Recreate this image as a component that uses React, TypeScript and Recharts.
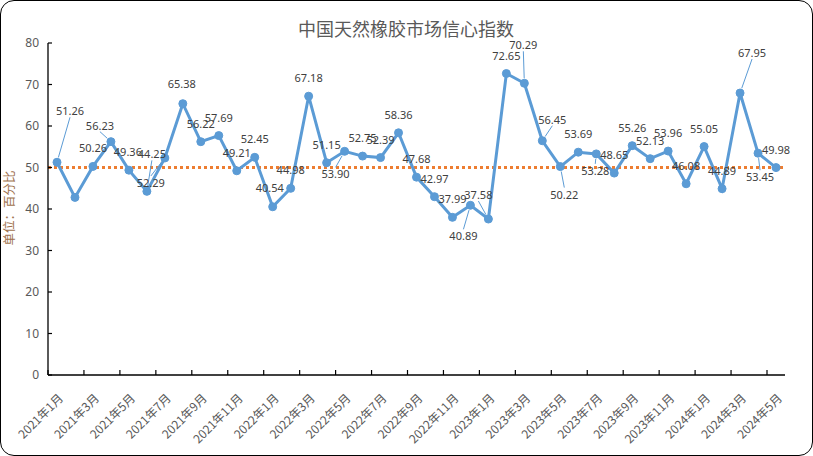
import { LabelList, Line, LineChart, ReferenceLine, XAxis, YAxis } from "recharts";

const MONTHS = [
  "2021年1月", "2021年2月", "2021年3月", "2021年4月", "2021年5月", "2021年6月",
  "2021年7月", "2021年8月", "2021年9月", "2021年10月", "2021年11月", "2021年12月",
  "2022年1月", "2022年2月", "2022年3月", "2022年4月", "2022年5月", "2022年6月",
  "2022年7月", "2022年8月", "2022年9月", "2022年10月", "2022年11月", "2022年12月",
  "2023年1月", "2023年2月", "2023年3月", "2023年4月", "2023年5月", "2023年6月",
  "2023年7月", "2023年8月", "2023年9月", "2023年10月", "2023年11月", "2023年12月",
  "2024年1月", "2024年2月", "2024年3月", "2024年4月", "2024年5月",
];

const CONFIDENCE = [
  51.26, 42.8, 50.26, 56.23, 49.36, 44.25, 52.29, 65.38, 56.22, 57.69, 49.21, 52.45,
  40.54, 44.98, 67.18, 51.15, 53.9, 52.75, 52.39, 58.36, 47.68, 42.97, 37.99, 40.89,
  37.58, 72.65, 70.29, 56.45, 50.22, 53.69, 53.28, 48.65, 55.26, 52.13, 53.96, 46.08,
  55.05, 44.89, 67.95, 53.45, 49.98,
];

const BASELINE = 50;
const Y_TICKS = [0, 10, 20, 30, 40, 50, 60, 70, 80];

const BLUE = "#5B9BD5";
const ORANGE = "#ED7D31";
const TEXT = "#595959";
const CJK = '"Noto Sans CJK SC", "Noto Sans", sans-serif';
const HALF_BAND = 9; // half a month's slot on the x axis

// where each value label sits relative to its point: [dx, dy, leader line]
const D: [number, number, boolean] = [0, -18, false];
const LABEL_POS: ([number, number, boolean] | null)[] = [
  [13, -51, true], null, D, [-11, -16, true], [-1, -18, false], [5, -37, true],
  [-14, 25, true], [-1, -20, false], D, D, D, D,
  [-3, -19, false], D, D, D, [-9, 23, true], D,
  D, D, D, D, D, [-7, 31, true],
  [-10, -24, true], D, [-1, -38, true], [10, -21, true], [4, 28, true], D,
  [-1, 17, true], D, D, D, D, D,
  D, D, [12, -40, true], [2, 24, true], D,
];

const data = MONTHS.map((month, i) => ({ month, value: CONFIDENCE[i] }));

function PointLabel(props: any) {
  const { x, y, value, index } = props;
  const pos = LABEL_POS[index];
  if (!pos || value == null) return null;
  const [dx, dy, leader] = pos;
  const lx = x + dx;
  const ly = y + dy;
  let line = null;
  if (leader) {
    const sx = lx;
    const sy = ly + (dy > 0 ? -7 : 6);
    const vx = sx - x;
    const vy = sy - y;
    const len = Math.hypot(vx, vy) || 1;
    line = (
      <line
        x1={sx}
        y1={sy}
        x2={x + (vx / len) * 5}
        y2={y + (vy / len) * 5}
        stroke={BLUE}
        strokeWidth={1}
      />
    );
  }
  return (
    <g>
      {line}
      <text
        x={lx}
        y={ly}
        dy={4}
        textAnchor="middle"
        fontSize={11}
        fontFamily='"Noto Sans", sans-serif'
        fill="#404040"
      >
        {Number(value).toFixed(2)}
      </text>
    </g>
  );
}

function MonthTick({ x, y, payload }: any) {
  const ax = x + 7;
  const ay = y + 24;
  return (
    <g>
      <line
        x1={x - HALF_BAND}
        y1={y}
        x2={x - HALF_BAND}
        y2={y - 5}
        stroke="#000"
        strokeWidth={1.2}
      />
      <text
        x={ax}
        y={ay}
        textAnchor="end"
        transform={`rotate(-45, ${ax}, ${ay})`}
        fontSize={12}
        fontFamily={CJK}
        fill={TEXT}
      >
        {payload.value}
      </text>
    </g>
  );
}

function ValueTick({ x, y, payload }: any) {
  return (
    <g>
      <line x1={x} y1={y} x2={x + 4} y2={y} stroke="#000" strokeWidth={1.2} />
      <text
        x={x - 9}
        y={y}
        dy={4}
        textAnchor="end"
        fontSize={12}
        fontFamily='"Noto Sans", sans-serif'
        fill={TEXT}
      >
        {payload.value}
      </text>
    </g>
  );
}

export default function App() {
  return (
    <div
      style={{
        position: "absolute",
        left: 0,
        top: 0,
        width: 813,
        height: 456,
        background: "#fff",
      }}
    >
      <LineChart
        width={813}
        height={456}
        data={data}
        margin={{ top: 43, right: 28, bottom: 0, left: 0 }}
      >
        <XAxis
          dataKey="month"
          interval={1}
          height={81}
          padding={{ left: HALF_BAND, right: HALF_BAND }}
          tickSize={0}
          tickMargin={0}
          tickLine={false}
          axisLine={{ stroke: "#000", strokeWidth: 1.3 }}
          tick={<MonthTick />}
        />
        <YAxis
          domain={[0, 80]}
          ticks={Y_TICKS}
          width={48}
          tickSize={0}
          tickMargin={0}
          tickLine={false}
          axisLine={{ stroke: "#000", strokeWidth: 1.3 }}
          tick={<ValueTick />}
        />
        <ReferenceLine
          y={BASELINE}
          stroke={ORANGE}
          strokeWidth={3}
          strokeDasharray="3 3"
        />
        <Line
          type="linear"
          dataKey="value"
          stroke={BLUE}
          strokeWidth={3}
          dot={{ r: 4, fill: BLUE, stroke: BLUE, strokeWidth: 1 }}
          isAnimationActive={false}
        >
          <LabelList dataKey="value" content={<PointLabel />} />
        </Line>
      </LineChart>
      <svg
        width={813}
        height={456}
        style={{ position: "absolute", left: 0, top: 0, pointerEvents: "none" }}
      >
        <text
          x={406}
          y={36}
          textAnchor="middle"
          fontSize={18}
          fontFamily={CJK}
          fill={TEXT}
        >
          中国天然橡胶市场信心指数
        </text>
        <text
          x={14}
          y={208}
          textAnchor="middle"
          transform="rotate(-90, 14, 208)"
          fontSize={12.5}
          fontFamily={CJK}
          fill="#a0724d"
        >
          单位：百分比
        </text>
      </svg>
      <div
        style={{
          position: "absolute",
          left: 0,
          top: 0,
          width: 813,
          height: 456,
          boxSizing: "border-box",
          border: "1.5px solid #000",
          borderRadius: 14,
          pointerEvents: "none",
        }}
      />
    </div>
  );
}
